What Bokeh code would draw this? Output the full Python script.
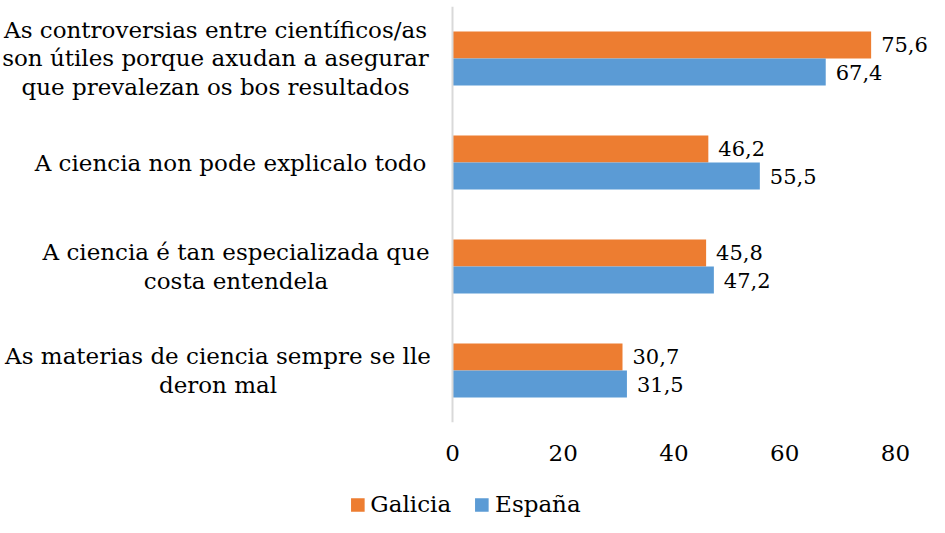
from bokeh.plotting import figure
from bokeh.layouts import column
from bokeh.models import Range1d, FactorRange, FixedTicker, Span, Legend, LegendItem, ColumnDataSource
from bokeh.transform import dodge
from bokeh.core.properties import value
from bokeh.embed import file_html
from bokeh.resources import INLINE

# ---- data ----
categories = [
    "As controversias entre científicos/as\nson útiles porque axudan a asegurar\nque prevalezan os bos resultados",
    "A ciencia non pode explicalo todo",
    "A ciencia é tan especializada que\ncosta entendela",
    "As materias de ciencia sempre se lle\nderon mal",
]
galicia = [75.6, 46.2, 45.8, 30.7]
espana = [67.4, 55.5, 47.2, 31.5]
series_names = ["Galicia", "España"]
x_ticks = [0, 20, 40, 60, 80]

# ---- layout constants ----
W = 929
H_MAIN, H_LEG = 470, 47
FONT = "DejaVu Serif"
FS = "23px"
ppu = 443 / 80.0                   # pixels per data unit
zero_px = 452                      # x=0 position inside the figure
x_start = -zero_px / ppu
x_end = (W - zero_px) / ppu
label_center_px = [215, 230, 235.5, 217.5]
label_x = [(c - zero_px) / ppu for c in label_center_px]

ORANGE = "#ED7D31"
BLUE = "#5B9BD5"

src = ColumnDataSource(dict(
    cat=categories,
    galicia=galicia,
    espana=espana,
    g_lbl=[f"{v:.1f}".replace(".", ",") for v in galicia],
    e_lbl=[f"{v:.1f}".replace(".", ",") for v in espana],
    lx=label_x,
))

p = figure(width=W, height=H_MAIN,
           x_range=Range1d(x_start, x_end),
           y_range=FactorRange(factors=list(reversed(categories))),
           output_backend="svg", toolbar_location=None,
           min_border_left=0, min_border_right=0, min_border_top=6, min_border_bottom=48)
p.yaxis.visible = False
p.outline_line_color = None
p.xgrid.visible = False
p.ygrid.visible = False

bh = 0.26
r1 = p.hbar(y=dodge("cat", bh / 2, range=p.y_range), left=0, right="galicia", height=bh,
            fill_color=ORANGE, line_color=None, source=src)
r2 = p.hbar(y=dodge("cat", -bh / 2, range=p.y_range), left=0, right="espana", height=bh,
            fill_color=BLUE, line_color=None, source=src)

p.add_layout(Span(location=0, dimension="height", line_color="#d9d9d9", line_width=2))

# value labels
p.text(x="galicia", y=dodge("cat", bh / 2, range=p.y_range), text="g_lbl", source=src,
       x_offset=10, text_baseline="middle", text_align="left",
       text_font=value(FONT), text_font_size="21px", text_color="black")
p.text(x="espana", y=dodge("cat", -bh / 2, range=p.y_range), text="e_lbl", source=src,
       x_offset=10, text_baseline="middle", text_align="left",
       text_font=value(FONT), text_font_size="21px", text_color="black")

# category labels
p.text(x="lx", y="cat", text="cat", source=src,
       text_baseline="middle", text_align="center", text_line_height=1.1,
       text_font=value(FONT), text_font_size=FS, text_color="black")

ax = p.xaxis[0]
ax.ticker = FixedTicker(ticks=x_ticks)
ax.axis_line_color = None
ax.major_tick_line_color = None
ax.minor_tick_line_color = None
ax.major_tick_out = 0
ax.major_tick_in = 0
ax.major_label_standoff = 22
ax.major_label_text_font = FONT
ax.major_label_text_font_size = FS
ax.major_label_text_color = "black"

# ---- legend strip (bars lie outside its ranges, only the legend shows) ----
pl = figure(width=W, height=H_LEG, output_backend="svg", toolbar_location=None,
            x_range=Range1d(-2, -1), y_range=FactorRange(factors=list(reversed(categories))),
            x_axis_location=None, y_axis_location=None,
            min_border_left=0, min_border_right=0, min_border_top=0, min_border_bottom=0)
pl.outline_line_color = None
pl.xgrid.visible = False
pl.ygrid.visible = False
l1 = pl.hbar(y="cat", left=0, right="galicia", height=bh, fill_color=ORANGE, line_color=None, source=src)
l2 = pl.hbar(y="cat", left=0, right="espana", height=bh, fill_color=BLUE, line_color=None, source=src)

legend = Legend(items=[LegendItem(label=series_names[0], renderers=[l1]),
                       LegendItem(label=series_names[1], renderers=[l2])],
                orientation="horizontal", location="bottom_center",
                glyph_width=17, glyph_height=17, label_standoff=5, spacing=22,
                padding=0, margin=0, border_line_color=None, background_fill_alpha=0,
                label_text_font=FONT, label_text_font_size=FS, label_text_color="black")
pl.add_layout(legend)

lay = column(p, pl, spacing=0)
open("out.html", "w").write(file_html(lay, INLINE))
